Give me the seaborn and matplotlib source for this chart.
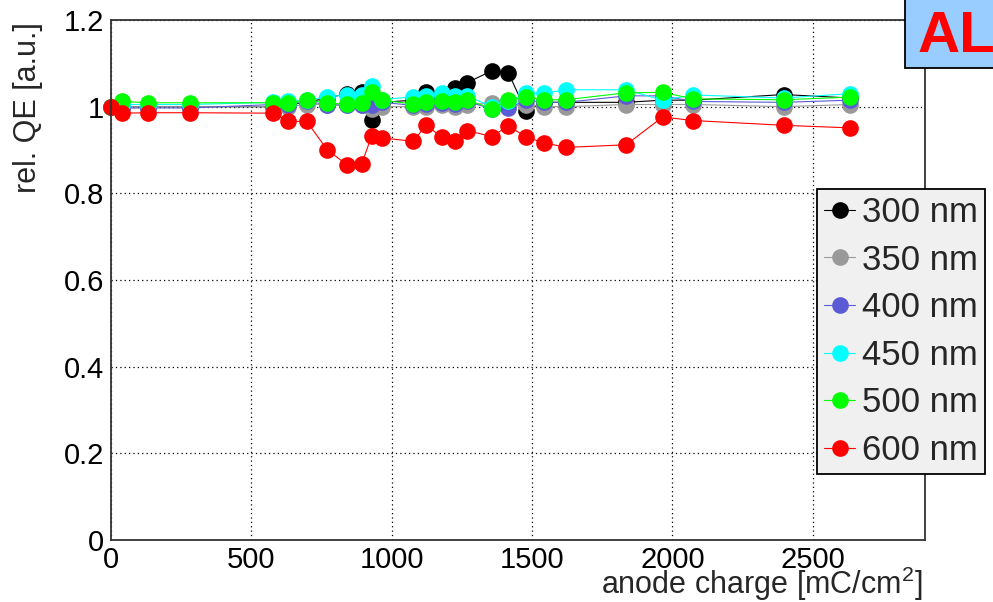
import matplotlib
matplotlib.use("Agg")
import matplotlib.pyplot as plt
import matplotlib.ticker as mticker
from matplotlib.patches import Rectangle
import numpy as np
import pandas as pd
import seaborn as sns

# ── Data ──────────────────────────────────────────────────────────────────────

charge = [0, 38, 133, 282, 578, 632, 697, 770, 840, 893, 929, 965, 1077, 1123,
          1178, 1226, 1268, 1357, 1416, 1478, 1541, 1621, 1835, 1965, 2075, 2396, 2634]

qe_300 = [1.000, 1.000, 1.000, 1.000, 1.000, 1.005, 1.010, 1.020, 1.030, 1.035, 0.970, 1.010,
          1.015, 1.035, 1.020, 1.042, 1.055, 1.083, 1.078, 0.990, 1.010, 1.010, 1.010, 1.015,
          1.015, 1.028, 1.020]
qe_350 = [1.000, 1.000, 1.000, 1.000, 1.000, 1.000, 1.005, 1.005, 1.003, 1.005, 0.995, 1.000,
          1.000, 1.000, 1.003, 1.000, 1.005, 1.008, 1.000, 1.005, 1.000, 1.000, 1.005, 1.005,
          1.005, 1.000, 1.005]
qe_400 = [1.000, 0.997, 0.997, 0.997, 1.005, 1.005, 1.012, 1.005, 1.003, 1.005, 1.003, 1.010,
          1.003, 1.006, 1.008, 1.006, 1.012, 0.995, 0.996, 1.015, 1.010, 1.010, 1.025, 1.025,
          1.012, 1.010, 1.015]
qe_450 = [1.000, 1.005, 1.005, 1.005, 1.010, 1.012, 1.015, 1.023, 1.027, 1.027, 1.047, 1.016,
          1.023, 1.025, 1.031, 1.025, 1.025, 1.000, 1.012, 1.031, 1.031, 1.039, 1.039, 1.015,
          1.027, 1.020, 1.030]
qe_500 = [1.000, 1.012, 1.009, 1.009, 1.009, 1.009, 1.016, 1.008, 1.006, 1.008, 1.035, 1.015,
          1.006, 1.010, 1.012, 1.010, 1.016, 0.995, 1.016, 1.022, 1.016, 1.016, 1.032, 1.033,
          1.018, 1.016, 1.022]
qe_600 = [1.000, 0.985, 0.986, 0.986, 0.985, 0.966, 0.966, 0.901, 0.866, 0.868, 0.933, 0.928,
          0.920, 0.958, 0.929, 0.920, 0.945, 0.931, 0.956, 0.930, 0.917, 0.906, 0.912, 0.976,
          0.968, 0.957, 0.951]

labels = ["300 nm", "350 nm", "400 nm", "450 nm", "500 nm", "600 nm"]
colours = ["#000000", "#999999", "#5b5bd6", "#00ffff", "#00ff00", "#ff0000"]

x_ticks = [0, 500, 1000, 1500, 2000, 2500]
y_ticks = [0, 0.2, 0.4, 0.6, 0.8, 1.0, 1.2]
y_tick_labels = ["0", "0.2", "0.4", "0.6", "0.8", "1", "1.2"]

# ── Style ─────────────────────────────────────────────────────────────────────

sns.set_theme(style="white")
plt.rcParams["font.family"] = ["Liberation Sans", "DejaVu Sans"]
plt.rcParams["mathtext.fontset"] = "custom"
plt.rcParams["mathtext.rm"] = "Liberation Sans"

W, H = 993, 602
fig = plt.figure(figsize=(W / 100, H / 100), dpi=100)
ax = fig.add_axes([111 / W, 62 / H, 814 / W, 520 / H])

series = [qe_300, qe_350, qe_400, qe_450, qe_500, qe_600]
for vals, lab, col in zip(series, labels, colours):
    sns.lineplot(x=charge, y=vals, ax=ax, color=col, label=lab, marker="o",
                 markersize=12, markeredgewidth=0, linewidth=0.8, errorbar=None,
                 sort=False, clip_on=False)

ax.set_xlim(0, 2900)
ax.set_ylim(0, 1.2)
ax.set_xticks(x_ticks)
ax.set_yticks(y_ticks)
ax.set_yticklabels(y_tick_labels)
ax.xaxis.set_minor_locator(mticker.MultipleLocator(100))
ax.yaxis.set_minor_locator(mticker.MultipleLocator(0.05))

ax.grid(True, which="major", linestyle=(0, (1, 2.5)), color="black", linewidth=0.9)
ax.tick_params(axis="both", which="both", direction="in", top=False, right=False,
               colors="#222222", labelsize=21, labelcolor="black")
ax.tick_params(axis="x", which="major", length=12, width=1.1, pad=4)
ax.tick_params(axis="x", which="minor", length=6, width=1.1)
ax.tick_params(axis="y", which="major", length=10, width=1.1, pad=5)
ax.tick_params(axis="y", which="minor", length=7, width=1.1)
for sp in ax.spines.values():
    sp.set_color("#333333")
    sp.set_linewidth(1.3)

ax.set_xlabel("anode charge [mC/cm$^2$]", fontsize=22, loc="right")
ax.xaxis.set_label_coords(0.997, -0.047)
ax.set_ylabel("rel. QE [a.u.]", fontsize=22, loc="top")
ax.yaxis.set_label_coords(-0.083, 0.995)

leg = ax.legend(loc="upper left", bbox_to_anchor=(817 / W, 1 - 189 / H),
                bbox_transform=fig.transFigure, fontsize=25, frameon=True,
                fancybox=False, framealpha=1, facecolor="#f0f0f0", edgecolor="black",
                borderaxespad=0, borderpad=0.2, handlelength=0.9, handletextpad=0.2,
                labelspacing=0.42, markerscale=1.0)
leg.get_frame().set_linewidth(1.3)

# "AL" box in the top right corner
fig.patches.append(Rectangle((905 / W, 1 - 68 / H), 0.2, 0.2, transform=fig.transFigure,
                             facecolor="#99ccff", edgecolor="black", linewidth=1.3))
fig.text(918 / W, 1 - 52 / H, "AL", color="#ff0000", fontsize=42, fontweight="bold",
         va="baseline", ha="left")

fig.savefig("out.png", dpi=100)
plt.close(fig)
